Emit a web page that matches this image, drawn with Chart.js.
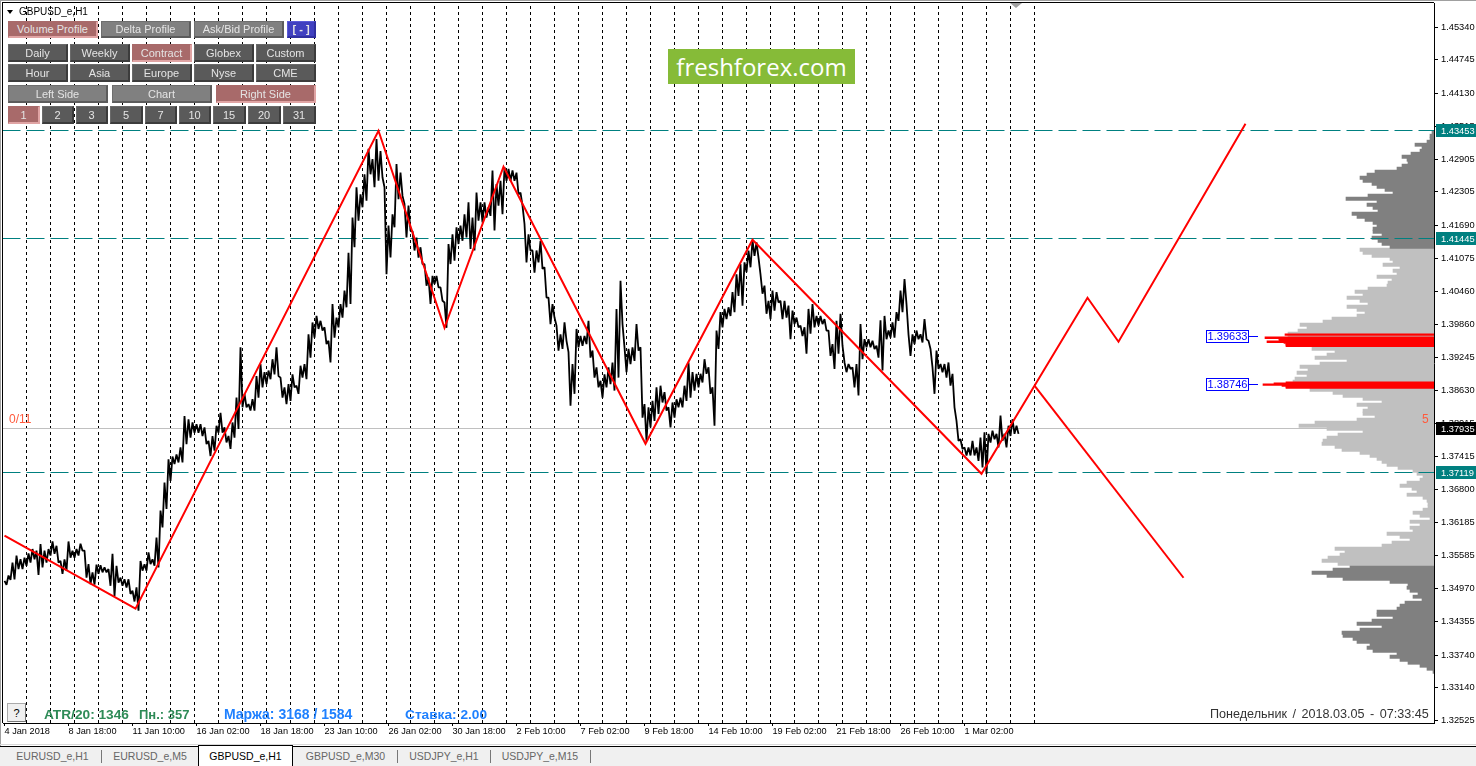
<!DOCTYPE html>
<html><head><meta charset="utf-8">
<style>
html,body{margin:0;padding:0;background:#fff;overflow:hidden}
#w{position:relative;width:1476px;height:766px;font-family:"Liberation Sans",Arial,sans-serif;overflow:hidden}
canvas{position:absolute;left:0;top:0}
.b{position:absolute;box-sizing:border-box;display:flex;align-items:center;justify-content:center;font-size:11px;color:#e4e4e4;border:1px solid;border-width:1px 2px 2px 1px;white-space:nowrap}
.g{background:#808080;border-color:#6e6e6e #5c5c5c #5c5c5c #6e6e6e}
.d{background:#5a5a5a;border-color:#6a6a6a #3c3c3c #3c3c3c #6a6a6a}
.r{background:#a86a6a;border-color:#a86a6a #e0a4a4 #e0a4a4 #a86a6a}
.u{background:#4040c0;border-color:#5a5ad8 #3030a0 #3030a0 #5a5ad8;font-weight:bold}
.t{position:absolute;white-space:nowrap}
.tab{position:absolute;top:747px;height:19px;line-height:18px;font-size:10.5px;color:#666;text-align:center}
</style></head><body><div id="w"><canvas id="c" width="1476" height="766"></canvas><div id="ui"></div></div>
<script src="https://cdn.jsdelivr.net/npm/chart.js@4/dist/chart.umd.js"></script>
<script>
const yTickValues=[1.45340,1.44745,1.44130,1.43515,1.42905,1.42305,1.41690,1.41075,1.40460,1.39860,1.39245,1.38630,1.38015,1.37415,1.36800,1.36185,1.35585,1.34970,1.34355,1.33740,1.33140,1.32525];
const xTickLabels=["4 Jan 2018","8 Jan 18:00","11 Jan 10:00","16 Jan 02:00","18 Jan 18:00","23 Jan 10:00","26 Jan 02:00","30 Jan 18:00","2 Feb 10:00","7 Feb 02:00","9 Feb 18:00","14 Feb 10:00","19 Feb 02:00","21 Feb 18:00","26 Feb 10:00","1 Mar 02:00"];
const barsPerXTick=64;
const barsPerDay=24;
const firstDayBar=22;
const dayCount=43;
const barStep=4;
const highs=[1.3511,1.3521,1.3545,1.3558,1.3551,1.3554,1.3562,1.3570,1.3567,1.3579,1.3567,1.3570,1.3584,1.3576,1.3548,1.3551,1.3584,1.3567,1.3570,1.3580,1.3567,1.3542,1.3527,1.3541,1.3540,1.3536,1.3533,1.3561,1.3539,1.3517,1.3514,1.3514,1.3493,1.3499,1.3548,1.3542,1.3564,1.3551,1.3591,1.3641,1.3693,1.3736,1.3741,1.3745,1.3758,1.3816,1.3810,1.3804,1.3801,1.3801,1.3795,1.3770,1.3779,1.3798,1.3822,1.3795,1.3779,1.3804,1.3850,
1.3943,1.3857,1.3838,1.3847,1.3890,1.3912,1.3897,1.3900,1.3921,1.3943,1.3887,1.3869,1.3875,1.3893,1.3872,1.3909,1.3912,1.3967,1.3989,1.4001,1.3992,1.3980,1.3955,1.4023,1.3998,1.4023,1.4048,1.4118,1.4183,1.4239,1.4226,1.4263,1.4310,1.4291,1.4328,1.4306,1.4239,1.4168,1.4189,1.4282,1.4266,1.4208,1.4205,1.4158,1.4146,1.4128,1.4097,1.4072,1.4075,1.4075,1.4054,1.4026,1.4134,1.4152,1.4165,1.4168,1.4189,1.4211,
1.4183,1.4229,1.4211,1.4211,1.4202,1.4270,1.4245,1.4251,1.4276,1.4273,1.4270,1.4266,1.4229,1.4171,1.4152,1.4122,1.4122,1.4140,1.4091,1.4035,1.4023,1.3983,1.3967,1.3989,1.3934,1.3912,1.3977,1.3964,1.3964,1.3992,1.3937,1.3906,1.3881,1.3893,1.3906,1.3915,1.4014,1.4066,1.3943,1.3940,1.3943,1.3986,1.3943,1.3838,1.3832,1.3844,1.3869,1.3872,1.3860,1.3832,1.3841,1.3847,
1.3850,1.3872,1.3915,1.3897,1.3894,1.3894,1.3921,1.3906,1.3869,1.3974,1.4008,1.4014,1.4017,1.4045,1.4078,1.4097,1.4100,1.4122,1.4141,1.4137,1.4078,1.4057,1.4029,1.4048,1.4045,1.4029,1.4029,1.4020,1.4011,1.3998,1.3983,1.3980,1.4014,1.4023,1.4001,1.4001,1.3995,1.3974,1.3949,1.3992,1.4005,1.3915,1.3912,1.3906,1.3912,1.3986,1.3958,1.3958,1.3955,1.3946,1.3993,
1.4001,1.3974,1.3989,1.4008,1.4048,1.4069,1.3967,1.3967,1.3974,1.3967,1.3995,1.3955,1.3906,1.3937,1.3912,1.3912,1.3915,1.3894,1.3807,1.3773,1.3758,1.3758,1.3770,1.3758,1.3776,1.3786,1.3783,1.3789,1.3783,1.3817,1.3783,1.3798,1.3810,1.3798];
const lows=[1.3504,1.3513,1.3514,1.3533,1.3533,1.3539,1.3545,1.3551,1.3522,1.3536,1.3545,1.3558,1.3561,1.3545,1.3524,1.3530,1.3554,1.3554,1.3558,1.3567,1.3517,1.3505,1.3504,1.3524,1.3527,1.3527,1.3502,1.3483,1.3508,1.3502,1.3499,1.3487,1.3473,1.3456,1.3530,1.3530,1.3542,1.3539,1.3536,1.3610,1.3644,1.3696,1.3727,1.3730,1.3730,1.3764,1.3776,1.3785,1.3785,1.3779,1.3764,1.3742,1.3752,1.3785,1.3785,1.3767,1.3755,1.3776,1.3792,
1.3832,1.3832,1.3826,1.3826,1.3850,1.3869,1.3875,1.3884,1.3893,1.3890,1.3850,1.3838,1.3844,1.3869,1.3857,1.3887,1.3884,1.3924,1.3961,1.3977,1.3974,1.3949,1.3915,1.3961,1.3980,1.3998,1.4017,1.4023,1.4128,1.4177,1.4202,1.4214,1.4263,1.4239,1.4251,1.4257,1.4078,1.4109,1.4165,1.4217,1.4223,1.4146,1.4158,1.4122,1.4109,1.4097,1.4057,1.4023,1.4060,1.4054,1.4029,1.3979,1.4097,1.4103,1.4134,1.4140,1.4146,1.4125,
1.4122,1.4177,1.4174,1.4183,1.4186,1.4159,1.4205,1.4189,1.4251,1.4251,1.4251,1.4226,1.4205,1.4100,1.4122,1.4081,1.4100,1.4088,1.4035,1.3986,1.3998,1.3937,1.3940,1.3955,1.3835,1.3857,1.3943,1.3946,1.3949,1.3924,1.3887,1.3869,1.3850,1.3869,1.3875,1.3863,1.3887,1.3986,1.3897,1.3912,1.3918,1.3937,1.3813,1.3770,1.3795,1.3807,1.3820,1.3841,1.3826,1.3795,1.3813,1.3832,
1.3832,1.3844,1.3850,1.3863,1.3869,1.3878,1.3894,1.3857,1.3798,1.3940,1.3980,1.3995,1.4001,1.4008,1.4038,1.4020,1.4082,1.4091,1.4112,1.4109,1.4042,1.4005,1.3995,1.4011,1.4026,1.3995,1.3998,1.3958,1.3986,1.3980,1.3964,1.3931,1.3968,1.3980,1.3983,1.3986,1.3974,1.3927,1.3903,1.3931,1.3946,1.3897,1.3903,1.3869,1.3854,1.3921,1.3943,1.3943,1.3940,1.3924,1.3900,
1.3958,1.3961,1.3961,1.3992,1.4008,1.4023,1.3927,1.3949,1.3958,1.3952,1.3958,1.3940,1.3857,1.3903,1.3897,1.3887,1.3872,1.3832,1.3770,1.3755,1.3743,1.3743,1.3743,1.3733,1.3721,1.3709,1.3767,1.3773,1.3758,1.3770,1.3758,1.3779,1.3783,1.3783];
const zigzagBars=[0,131,374,440,499,641,748,977,1030,1083,1114,1241];
const zigzagPrices=[1.35946,1.34596,1.43435,1.39792,1.42769,1.37647,1.41419,1.37092,1.38720,1.40347,1.39533,1.43564];
const forecastBars=[1030,1179];
const forecastPrices=[1.38720,1.35169];
const tealLevels=[1.43453,1.41445,1.37119];
const currentPrice=1.37935;
const pocLevels=[1.39633,1.38746];
const profileRowStep=0.00055476;
const profileTopStart=1.43398;
const profileTop=[2,4,4,7,19,12,14,23,32,27,26,32,37,59,67,74,71,62,57,49,41,66,88,57,67,61,56,82,77,69,61,57,61,61,52,62,56,52,44];
const profileLightAStart=1.41235;
const profileLightA=[74,71,62,44,41,51,34,41,37,57,42,46,47,66,79,71,87,74,66,87,77,69,77,102,111,134,127,136,146,146];
const profileLightBStart=1.39404;
const profileLightB=[122,99,107,119,87,114,134,126,137,127,139,141];
const profileLightCStart=1.38646;
const profileLightC=[124,101,91,71,52,77,66,71,71,59,77,119,135,107,71,96,107,111,112,99,92,74,64,57,52,47,36,21,17,11,14,27,34,22,17,27,11,7,6,6,11,21,14,4,24,14,24,21,47,34,24,42,52,99,89,94,106,112,96];
const profileLowStart=1.35373;
const profileLow=[84,101,122,107,91,44,26,27,24,16,21,12,29,34,37,57,57,41,62,77,52,74,92,91,81,77,64,67,61,37,44,34,26,14,7,1];
const pocRowPrices=[1.39663,1.39607,1.39589,1.39570,1.39552,1.39533,1.39515,1.39496,1.39478,1.39459,1.38775,1.38757,1.38738,1.38720,1.38701,1.38683];
const pocRowVolumes=[149,169,155,155,150,167,150,148,148,148,148,160,171,152,148,148];

const yMin=1.32483,yMax=1.45797;
const rows=(start,vals)=>vals.map((v,i)=>({x:v,y:start-i*profileRowStep}));
const dayBars=Array.from({length:dayCount},(_,i)=>firstDayBar+i*barsPerDay);
const vertical=dayBars.flatMap(b=>[{x:b,y:yMin},{x:b,y:yMax},{x:b,y:null}]);
const trace=highs.flatMap((h,i)=>[{x:i*barStep,y:h},{x:i*barStep+2,y:lows[i]}]);
const hline=(v,c,extra)=>Object.assign({type:'line',snap:true,data:[{x:-2,y:v},{x:1431,y:v}],borderColor:c,borderWidth:1,pointRadius:0,order:3},extra||{});
const prof=(data,color)=>({type:'bar',indexAxis:'y',xAxisID:'xv',data,backgroundColor:color,barThickness:3.2,grouped:false,order:6,borderWidth:0});

const zeroPad=s=>{s.paddingTop=0;s.paddingBottom=0;s.paddingLeft=0;s.paddingRight=0;};
const snapPlugin={id:'snap',beforeDatasetsDraw(ch){
  ch.data.datasets.forEach((d,i)=>{if(d.snap){ch.getDatasetMeta(i).data.forEach(p=>{p.y=Math.round(p.y)+.5;});}});
}};
const tagsPlugin={id:'tags',afterDraw(ch){
  const c=ch.ctx,y=ch.scales.y;c.save();
  c.textBaseline='middle';
  const tag=(v,bg)=>{const p=Math.round(y.getPixelForValue(v));c.fillStyle=bg;c.fillRect(1436,p-6,40,13);c.fillStyle='#fff';c.textAlign='left';c.font='9.3px "Liberation Sans"';c.fillText(v.toFixed(5),1441,p+1);};
  tealLevels.forEach(v=>tag(v,'#008080'));tag(currentPrice,'#000');
  pocLevels.forEach(v=>{const p=Math.round(y.getPixelForValue(v))+.5;c.fillStyle='#fff';c.fillRect(1206,p-6,43,12);c.strokeStyle='#0000ff';c.lineWidth=1;c.strokeRect(1206.5,p-6,42,12);c.beginPath();c.moveTo(1249,p);c.lineTo(1258,p);c.stroke();c.fillStyle='#0000ff';c.font='11px "Liberation Sans"';c.textAlign='center';c.fillText(v.toFixed(5),1227.5,p+.5);});
  c.restore();
}};

new Chart(document.getElementById('c'),{type:'line',
 data:{datasets:[
  {type:'line',data:zigzagBars.map((b,i)=>({x:b,y:zigzagPrices[i]})),borderColor:'#ff0000',borderWidth:2,pointRadius:0,tension:0,order:1},
  {type:'line',data:forecastBars.map((b,i)=>({x:b,y:forecastPrices[i]})),borderColor:'#ff0000',borderWidth:2,pointRadius:0,tension:0,order:1},
  {type:'line',data:trace,borderColor:'#000',borderWidth:1.8,pointRadius:0,tension:0,order:2,borderJoinStyle:'bevel'},
  ...tealLevels.map(v=>hline(v,'#008080',{borderDash:[18,6]})),
  hline(currentPrice,'#c0c0c0',{order:4}),
  {type:'line',data:vertical,borderColor:'#000',borderWidth:1,borderDash:[3,3],pointRadius:0,spanGaps:false,order:5},
  prof(rows(profileTopStart,profileTop),'#808080'),
  prof(rows(profileLightAStart,profileLightA),'#c0c0c0'),
  prof(rows(profileLightBStart,profileLightB),'#c0c0c0'),
  prof(rows(profileLightCStart,profileLightC),'#c0c0c0'),
  prof(rows(profileLowStart,profileLow),'#808080'),
  Object.assign(prof(pocRowVolumes.map((v,i)=>({x:v,y:pocRowPrices[i]})),'#ff0000'),{barThickness:1.6,order:5.5})
 ]},
 plugins:[snapPlugin,tagsPlugin],
 options:{responsive:false,animation:false,events:[],devicePixelRatio:1,
  layout:{padding:{left:3,top:3,right:0,bottom:0}},
  plugins:{legend:{display:false},tooltip:{enabled:false},title:{display:false}},
  scales:{
   x:{type:'linear',min:-1.5,max:1429.5,offset:false,beginAtZero:false,position:'bottom',
      afterFit(s){s.height=43;zeroPad(s)},
      afterBuildTicks(s){s.ticks=xTickLabels.map((_,i)=>({value:i*barsPerXTick}))},
      grid:{display:true,drawOnChartArea:false,drawTicks:true,tickLength:3,color:'#000',offset:false},
      border:{display:true,color:'#000',width:1},
      ticks:{callback:(v,i)=>xTickLabels[i],align:'start',autoSkip:false,maxRotation:0,minRotation:0,padding:0,color:'#000',font:{family:'Liberation Sans',size:9.2}}},
   xv:{type:'linear',display:false,reverse:true,min:0,max:1431,beginAtZero:false,offset:false,grid:{display:false}},
   y:{type:'linear',min:yMin,max:yMax,position:'right',offset:false,
      afterFit(s){s.width=42;zeroPad(s)},
      afterBuildTicks(s){s.ticks=yTickValues.map(v=>({value:v}))},
      grid:{display:true,drawOnChartArea:false,drawTicks:true,tickLength:4,color:'#000',offset:false},
      border:{display:true,color:'#000',width:1},
      ticks:{callback:v=>v.toFixed(5),autoSkip:false,padding:3,color:'#000',font:{family:'Liberation Sans',size:9.3}}}
  }}
});

const ui=document.getElementById('ui');
const add=(cls,txt,l,t,w,h,st)=>{const d=document.createElement('div');d.className=cls;d.textContent=txt;d.style.cssText=`left:${l}px;top:${t}px;width:${w}px;height:${h}px;`+(st||'');ui.appendChild(d);return d;};
[['r','Volume Profile',8,90],['g','Delta Profile',101,90],['g','Ask/Bid Profile',194,90],['u','[ - ]',287,29]].forEach(b=>add('b '+b[0],b[1],b[2],21,b[3],17));
[['d','Daily',8],['d','Weekly',70],['r','Contract',132],['d','Globex',194],['d','Custom',256]].forEach(b=>add('b '+b[0],b[1],b[2],44,60,18));
[['d','Hour',8],['d','Asia',70],['d','Europe',132],['d','Nyse',194],['d','CME',256]].forEach(b=>add('b '+b[0],b[1],b[2],64,60,18));
[['g','Left Side',8],['g','Chart',112],['r','Right Side',216]].forEach(b=>add('b '+b[0],b[1],b[2],85,100,18));
[['r','1',8,32],['d','2',42,32],['d','3',76,32],['d','5',110,33],['d','7',145,32],['d','10',179,32],['d','15',213,33],['d','20',248,33],['d','31',283,33]].forEach(b=>add('b '+b[0],b[1],b[2],106,b[3],18));
// frame
add('t','',0,0,1476,1,'background:#a0a0a0');
add('t','',0,1,1,745,'background:#a0a0a0');
add('t','',2,2,1432,1,'background:#000');
add('t','',2,2,1,721,'background:#000');
// header
add('t','',7,10,0,0,'border-left:3px solid transparent;border-right:3px solid transparent;border-top:4px solid #000');
add('t','GBPUSD_e,H1',19,5,70,13,'font-size:10px;line-height:13px;color:#000');
add('t','',1010,3,0,0,'border-left:6px solid transparent;border-right:6px solid transparent;border-top:5px solid #a0a0a0');
// logo
add('t','freshforex.com',668,49,187,35,'background:#86bb38;color:#fff;font-family:"Open Sans";font-size:24px;line-height:35px;text-align:center');
// labels
add('t','0/11',9,412,30,14,'font-size:12px;line-height:14px;color:#ff5a3c');
add('t','5',1422,412,10,14,'font-size:12px;line-height:14px;color:#ff5a3c');
add('b','?',7,703,19,19,'background:#f0f0f0;color:#000;border:1px solid #888;border-color:#aaa #777 #777 #aaa;font-size:11px');
add('t','ATR/20: 1346',44,707,100,15,'font:bold 13.7px/15px "Liberation Sans";color:#2e8b57');
add('t','Пн.: 357',139,707,60,15,'font:bold 13px/15px "Liberation Sans";color:#2e8b57');
add('t','Маржа: 3168 / 1584',224,707,140,15,'font:bold 14px/15px "Liberation Sans";color:#1e80ff');
add('t','Ставка: 2.00',405,707,90,15,'font:bold 13.7px/15px "Liberation Sans";color:#1e80ff');
add('t','Понедельник / 2018.03.05 - 07:33:45',1210,707,222,15,'font-size:12.6px;line-height:15px;color:#333;word-spacing:2px');
// tab bar
add('t','',0,744,1476,1,'background:#d8d8d8');
add('t','',0,746,1476,20,'background:#f0f0f0;border-top:1px solid #000;box-sizing:border-box');
[['EURUSD_e,H1',4,97],['EURUSD_e,M5',102,96],['GBPUSD_e,M30',294,103],['USDJPY_e,H1',398,92],['USDJPY_e,M15',491,98]].forEach(b=>add('tab',b[0],b[1],747,b[2],19));
[101,397,490,590].forEach(x=>add('t','',x,750,1,13,'background:#777'));
add('tab','GBPUSD_e,H1',198,745,95,21,'background:#fff;color:#000;border:1px solid #000;border-top:1px solid #000;border-bottom:0;box-sizing:border-box;line-height:20px');
</script></body></html>
